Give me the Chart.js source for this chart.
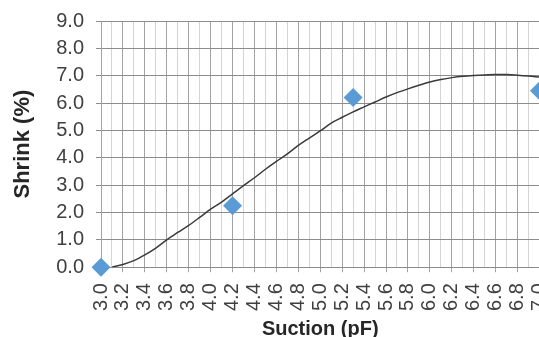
<!DOCTYPE html>
<html>
<head>
<meta charset="utf-8">
<script src="https://cdn.jsdelivr.net/npm/chart.js@4.4.1/dist/chart.umd.min.js"></script>
<style>
  html, body { margin: 0; padding: 0; overflow: hidden; background: #fff; width: 539px; height: 337px; }
  #wrap { position: absolute; left: 0; top: 0; width: 549px; height: 345px; }
</style>
</head>
<body>
<div id="wrap"><canvas id="chart"></canvas></div>
<script>
// Measured shrinkage at each suction level
const suction = [3.0, 4.2, 5.3, 7.0];
const shrink = [0.0, 2.25, 6.2, 6.45];

// Fitted trend curve
const trendSuction = [3.1, 3.2, 3.3, 3.4, 3.5, 3.6, 3.7, 3.8, 3.9, 4.0,
                      4.1, 4.2, 4.3, 4.4, 4.5, 4.6, 4.7, 4.8, 4.9, 5.0,
                      5.1, 5.2, 5.3, 5.4, 5.5, 5.6, 5.7, 5.8, 5.9, 6.0,
                      6.1, 6.2, 6.3, 6.4, 6.5, 6.6, 6.7, 6.8, 6.9, 7.0];
const trendShrink = [0.00, 0.10, 0.24, 0.45, 0.70, 1.00, 1.27, 1.53, 1.82, 2.12,
                     2.38, 2.68, 2.98, 3.27, 3.58, 3.87, 4.14, 4.45, 4.72, 4.98,
                     5.27, 5.48, 5.68, 5.86, 6.04, 6.22, 6.38, 6.52, 6.65, 6.77,
                     6.86, 6.93, 6.98, 7.01, 7.03, 7.04, 7.04, 7.02, 6.99, 6.95];

// Axis tick labels
const xTickLabels = ['3.0', '3.2', '3.4', '3.6', '3.8', '4.0', '4.2', '4.4', '4.6', '4.8',
                     '5.0', '5.2', '5.4', '5.6', '5.8', '6.0', '6.2', '6.4', '6.6', '6.8', '7.0'];
const yTickLabels = ['0.0', '1.0', '2.0', '3.0', '4.0', '5.0', '6.0', '7.0', '8.0', '9.0'];

const X_MIN = 3.0, X_MAX = 7.0, X_STEP = 0.1;

const points = suction.map((x, i) => ({ x: x, y: shrink[i] }));
const trend = trendSuction.map((x, i) => ({ x: x, y: trendShrink[i] }));

// Every other 0.1 step is a labelled (major) gridline
const tickIndex = v => Math.round((v - X_MIN) / X_STEP);
const isMajor = v => tickIndex(v) % 2 === 0;

Chart.defaults.font.family = "'Liberation Sans', Arial, sans-serif";

new Chart(document.getElementById('chart'), {
  type: 'scatter',
  data: {
    datasets: [
      {
        label: 'Trend',
        data: trend,
        showLine: true,
        borderColor: '#3a3a3a',
        borderWidth: 1.5,
        pointRadius: 0,
        pointHoverRadius: 0,
        cubicInterpolationMode: 'monotone',
        fill: false,
        order: 0
      },
      {
        label: 'Shrink',
        data: points,
        pointStyle: 'rectRot',
        pointRadius: 9.5,
        pointHoverRadius: 9.5,
        backgroundColor: '#5B9BD5',
        borderColor: '#5B9BD5',
        borderWidth: 0,
        clip: false,
        order: 1
      }
    ]
  },
  options: {
    responsive: true,
    maintainAspectRatio: false,
    animation: false,
    layout: { padding: { top: 21, left: 0, right: 0, bottom: 0 } },
    plugins: {
      legend: { display: false },
      tooltip: { enabled: false }
    },
    scales: {
      x: {
        type: 'linear',
        min: X_MIN,
        max: X_MAX,
        afterFit: s => { s.paddingLeft = 0; s.paddingRight = 0; },
        ticks: {
          stepSize: X_STEP,
          autoSkip: false,
          minRotation: 90,
          maxRotation: 90,
          padding: 11,
          color: '#404040',
          font: { size: 20 },
          callback: v => {
            const i = tickIndex(v);
            return i % 2 === 0 ? xTickLabels[i / 2] : '';
          }
        },
        grid: {
          color: ctx => (ctx.tick && isMajor(ctx.tick.value)) ? '#a3a3a3' : '#d4d4d4',
          tickColor: ctx => (ctx.tick && isMajor(ctx.tick.value)) ? '#a3a3a3' : 'rgba(0,0,0,0)',
          tickLength: 5,
          lineWidth: 1
        },
        border: { color: '#8c8c8c', width: 1 },
        title: {
          display: true,
          text: 'Suction (pF)',
          color: '#262626',
          font: { size: 20, weight: 'bold' },
          padding: { top: -5, bottom: 4 }
        }
      },
      y: {
        type: 'linear',
        min: 0,
        max: 9,
        afterFit: s => { s.paddingTop = 0; s.paddingBottom = 0; },
        ticks: {
          stepSize: 1,
          autoSkip: false,
          padding: 12,
          color: '#404040',
          font: { size: 20 },
          callback: v => yTickLabels[Math.round(v)]
        },
        grid: {
          color: '#8c8c8c',
          tickColor: '#8c8c8c',
          tickLength: 5,
          lineWidth: 1
        },
        border: { color: '#a3a3a3', width: 1 },
        title: {
          display: true,
          text: 'Shrink (%)',
          color: '#262626',
          font: { size: 22, weight: 'bold' },
          padding: { top: 10, bottom: 7.8 }
        }
      }
    }
  }
});
</script>
</body>
</html>
